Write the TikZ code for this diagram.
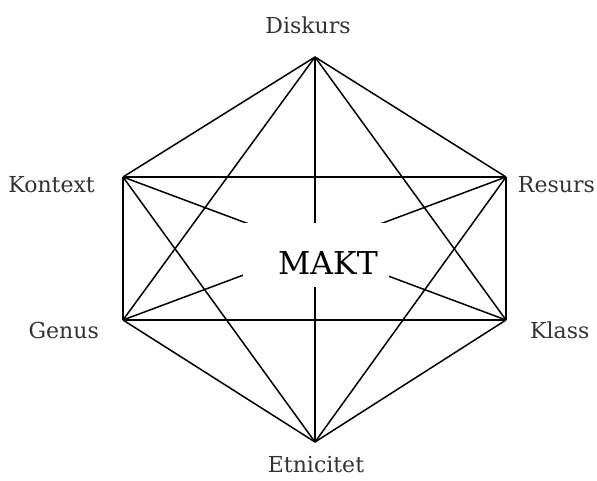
\documentclass[tikz,border=0pt]{standalone}
\usepackage{fontspec}
\setmainfont{DejaVu Serif}
\begin{document}
\begin{tikzpicture}[x=1pt,y=1pt,
  edge/.style={line width=1.5pt, black},
  lbl/.style={font=\fontsize{22}{27}\selectfont, text=black!80, inner sep=0pt},
  center/.style={font=\fontsize{31.5}{38}\selectfont, text=black, inner sep=0pt}]
\useasboundingbox (0,0) rectangle (597,480);
\coordinate (D)  at (315,423);
\coordinate (R)  at (506,303);
\coordinate (Kl) at (506,160);
\coordinate (E)  at (315,38);
\coordinate (G)  at (123,160);
\coordinate (Ko) at (123,303);
% all connections
\foreach \a/\b in {D/R,D/Kl,D/E,D/G,D/Ko,R/Kl,R/E,R/G,R/Ko,Kl/E,Kl/G,Kl/Ko,E/G,E/Ko,G/Ko}
  \draw[edge] (\a) -- (\b);
% white mask in the centre
\node[fill=white, inner sep=0pt, minimum width=146pt, minimum height=64pt] (mask) at (316,225) {};
\node[center, anchor=base] (makt) at (328,206) {MAKT};
% labels
\node[lbl, anchor=base] (lD) at (308,446) {Diskurs};
\node[lbl, anchor=base] (lE) at (316,8) {Etnicitet};
\node[lbl, anchor=base east] (lKo) at (95,287) {Kontext};
\node[lbl, anchor=base east] (lR) at (595,287) {Resurs};
\node[lbl, anchor=base east] (lG) at (99,142) {Genus};
\node[lbl, anchor=base west] (lKl) at (530,142) {Klass};
\end{tikzpicture}
\end{document}
